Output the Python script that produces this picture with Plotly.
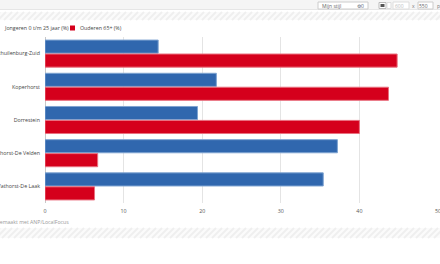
import plotly.graph_objects as go

categories = ["Schuilenburg-Zuid", "Koperhorst", "Dorrestein", "Vathorst-De Velden", "Vathorst-De Laak"]
jongeren = [14.4, 21.8, 19.4, 37.2, 35.4]
ouderen = [44.8, 43.7, 40.0, 6.7, 6.3]
series_names = ["Jongeren 0 t/m 25 jaar (%)", "Ouderen 65+ (%)"]
x_ticks = [0, 10, 20, 30, 40, 50]
footer = "Gemaakt met ANP/LocalFocus"

BLUE = "#3067ae"
RED = "#d5001c"

W, H = 440, 264
L, R, T, B = 45, 2, 37, 61
PW, PH = W - L - R, H - T - B

def xp(px):
    return (px - L) / PW

def yp(py):
    return (H - B - py) / PH

fig = go.Figure()
fig.add_trace(go.Bar(y=categories, x=jongeren, name=series_names[0], orientation="h",
                     marker=dict(color=BLUE, line=dict(color="#7ea3d1", width=1)), showlegend=False))
fig.add_trace(go.Bar(y=categories, x=ouderen, name=series_names[1], orientation="h",
                     marker=dict(color=RED, line=dict(color="#e9707f", width=1)), showlegend=False))

shapes = []
annotations = []

# toolbar
shapes.append(dict(type="rect", xref="paper", yref="paper", x0=xp(0), x1=xp(W), y0=yp(0), y1=yp(9.5),
                   fillcolor="#f5f5f5", line=dict(width=0), layer="below"))
shapes.append(dict(type="line", xref="paper", yref="paper", x0=xp(0), x1=xp(W), y0=yp(9.5), y1=yp(9.5),
                   line=dict(color="#e6e6e6", width=1)))
shapes.append(dict(type="rect", xref="paper", yref="paper", x0=xp(318), x1=xp(368), y0=yp(2), y1=yp(9),
                   fillcolor="white", line=dict(color="#cccccc", width=1)))
annotations.append(dict(text="Mijn stijl", xref="paper", yref="paper", x=xp(320), y=yp(5.5),
                        xanchor="left", yanchor="middle", showarrow=False, font=dict(size=5, color="#666")))
annotations.append(dict(text="⚙0", xref="paper", yref="paper", x=xp(366), y=yp(5.5),
                        xanchor="right", yanchor="middle", showarrow=False, font=dict(size=5, color="#567")))
shapes.append(dict(type="rect", xref="paper", yref="paper", x0=xp(379), x1=xp(386), y0=yp(2.5), y1=yp(8.5),
                   fillcolor="white", line=dict(color="#bbbbbb", width=1)))
shapes.append(dict(type="rect", xref="paper", yref="paper", x0=xp(380.5), x1=xp(384.5), y0=yp(4), y1=yp(7),
                   fillcolor="#555", line=dict(width=0)))
shapes.append(dict(type="rect", xref="paper", yref="paper", x0=xp(387), x1=xp(391), y0=yp(2.5), y1=yp(8.5),
                   fillcolor="white", line=dict(color="#dddddd", width=1)))
shapes.append(dict(type="rect", xref="paper", yref="paper", x0=xp(393), x1=xp(409), y0=yp(2), y1=yp(9),
                   fillcolor="white", line=dict(color="#dddddd", width=1)))
annotations.append(dict(text="600", xref="paper", yref="paper", x=xp(406), y=yp(5.5),
                        xanchor="right", yanchor="middle", showarrow=False, font=dict(size=5, color="#bbb")))
annotations.append(dict(text="x", xref="paper", yref="paper", x=xp(413), y=yp(5.5),
                        xanchor="center", yanchor="middle", showarrow=False, font=dict(size=5, color="#777")))
shapes.append(dict(type="rect", xref="paper", yref="paper", x0=xp(418), x1=xp(433), y0=yp(2), y1=yp(9),
                   fillcolor="white", line=dict(color="#cccccc", width=1)))
annotations.append(dict(text="550", xref="paper", yref="paper", x=xp(430), y=yp(5.5),
                        xanchor="right", yanchor="middle", showarrow=False, font=dict(size=5, color="#666")))
annotations.append(dict(text="px", xref="paper", yref="paper", x=xp(435), y=yp(5.5),
                        xanchor="left", yanchor="middle", showarrow=False, font=dict(size=5, color="#777")))

# hatched stripes
for (y0, y1) in [(12, 20), (228, 238)]:
    shapes.append(dict(type="rect", xref="paper", yref="paper", x0=xp(0), x1=xp(W), y0=yp(y1), y1=yp(y0),
                       fillcolor="#fbfbfb", line=dict(width=0), layer="below"))
    h = y1 - y0
    xs = -h
    while xs < W:
        shapes.append(dict(type="line", xref="paper", yref="paper", x0=xp(xs), x1=xp(xs + h),
                           y0=yp(y1), y1=yp(y0), line=dict(color="#efefef", width=2), layer="below"))
        xs += 6

# legend (manual)
annotations.append(dict(text=series_names[0], xref="paper", yref="paper", x=xp(1.5), y=yp(28),
                        xanchor="left", yanchor="middle", showarrow=False, font=dict(size=5.3, color="#444")))
shapes.append(dict(type="rect", xref="paper", yref="paper", x0=xp(-7), x1=xp(-2), y0=yp(30.5), y1=yp(25.5),
                   fillcolor=BLUE, line=dict(width=0)))
shapes.append(dict(type="rect", xref="paper", yref="paper", x0=xp(70), x1=xp(75), y0=yp(30.5), y1=yp(25.5),
                   fillcolor=RED, line=dict(width=0)))
annotations.append(dict(text=series_names[1], xref="paper", yref="paper", x=xp(77.5), y=yp(28),
                        xanchor="left", yanchor="middle", showarrow=False, font=dict(size=5.3, color="#444")))

# footer
annotations.append(dict(text=footer, xref="paper", yref="paper", x=xp(-6), y=yp(221.5),
                        xanchor="left", yanchor="middle", showarrow=False, font=dict(size=5.2, color="#999")))

fig.update_layout(
    width=W, height=H,
    margin=dict(l=L, r=R, t=T, b=B, pad=0),
    paper_bgcolor="white", plot_bgcolor="white",
    font=dict(family="Open Sans", color="#444"),
    barmode="group", bargap=0.16, bargroupgap=0.06,
    shapes=shapes, annotations=annotations,
    xaxis=dict(range=[0, 50], tickvals=x_ticks, ticktext=[str(v) for v in x_ticks],
               showgrid=True, gridcolor="#e4e4e4", gridwidth=1, zeroline=True, zerolinecolor="#c8c8c8",
               zerolinewidth=1, tickfont=dict(size=5.3, color="#555"), ticks="outside", ticklen=3,
               tickcolor="rgba(0,0,0,0)", ticklabeloverflow="allow",
               automargin=False, fixedrange=True),
    yaxis=dict(categoryorder="array", categoryarray=categories, autorange="reversed",
               tickfont=dict(size=5.3, color="#444"), ticks="outside", ticklen=3, tickcolor="rgba(0,0,0,0)",
               ticklabeloverflow="allow", automargin=False, showgrid=False, fixedrange=True),
)

fig.write_html("out.html")
